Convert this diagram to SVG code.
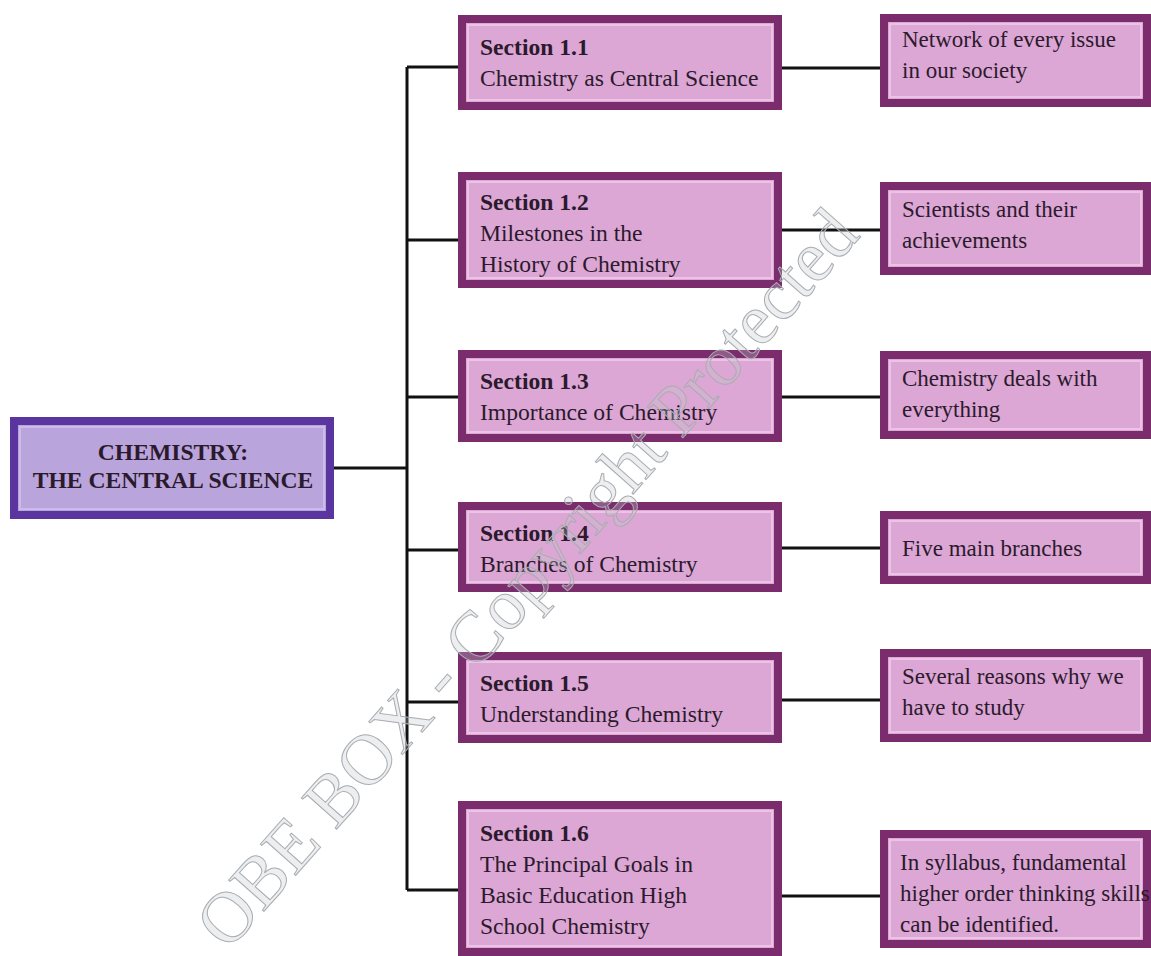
<svg xmlns="http://www.w3.org/2000/svg" width="1151" height="956" viewBox="0 0 1151 956">
<style>
.sec{fill:#dca6d5;stroke:#7a2c6c;stroke-width:8}
.inner{fill:none;stroke:#ebc3e5;stroke-width:2}
.main{fill:#b9a4dc;stroke:#5a35a0;stroke-width:8}
.maininner{fill:none;stroke:#cbbbe8;stroke-width:2}
.t{font-family:"Liberation Serif","Times New Roman",serif;font-size:23px;fill:#2b1a2c}
.s{font-size:23.6px}
.b{font-weight:bold}
.c{text-anchor:middle}
.ln{stroke:#111;stroke-width:3;fill:none}
.wm{font-family:"Liberation Serif","Times New Roman",serif;font-size:72px;fill:#c3c7ca;fill-opacity:0.3;stroke:#a9adb1;stroke-width:1}
</style>
<rect width="1151" height="956" fill="#ffffff"/>
<g id="connectors">
<path class="ln" d="M334 468 H407"/>
<path class="ln" d="M407 67 V890"/>
<path class="ln" d="M407 67 H458 M407 240 H458 M407 397 H458 M407 550 H458 M407 702 H458 M407 890 H458"/>
<path class="ln" d="M782 68 H880 M782 230 H880 M782 397 H880 M782 548 H880 M782 700 H880 M782 896 H880"/>
</g>
<g id="central">
<rect class="main" x="14" y="421" width="316" height="94"/>
<rect class="maininner" x="20" y="427" width="304" height="82"/>
<text class="t s b c" x="173" y="460">CHEMISTRY:</text>
<text class="t s b c" x="173" y="488">THE CENTRAL SCIENCE</text>
</g>
<g id="s1">
<rect class="sec" x="462" y="19" width="316" height="87"/>
<rect class="inner" x="468" y="25" width="304" height="75"/>
<text class="t s b" x="480" y="55">Section 1.1</text>
<text class="t s" x="480" y="86">Chemistry as Central Science</text>
</g>
<g id="s2">
<rect class="sec" x="462" y="176" width="316" height="108"/>
<rect class="inner" x="468" y="182" width="304" height="96"/>
<text class="t s b" x="480" y="210">Section 1.2</text>
<text class="t s" x="480" y="241">Milestones in the</text>
<text class="t s" x="480" y="272">History of Chemistry</text>
</g>
<g id="s3">
<rect class="sec" x="462" y="354" width="316" height="84"/>
<rect class="inner" x="468" y="360" width="304" height="72"/>
<text class="t s b" x="480" y="389">Section 1.3</text>
<text class="t s" x="480" y="420">Importance of Chemistry</text>
</g>
<g id="s4">
<rect class="sec" x="462" y="506" width="316" height="82"/>
<rect class="inner" x="468" y="512" width="304" height="70"/>
<text class="t s b" x="480" y="541">Section 1.4</text>
<text class="t s" x="480" y="572">Branches of Chemistry</text>
</g>
<g id="s5">
<rect class="sec" x="462" y="656" width="316" height="83"/>
<rect class="inner" x="468" y="662" width="304" height="71"/>
<text class="t s b" x="480" y="691">Section 1.5</text>
<text class="t s" x="480" y="722">Understanding Chemistry</text>
</g>
<g id="s6">
<rect class="sec" x="462" y="805" width="316" height="147"/>
<rect class="inner" x="468" y="811" width="304" height="135"/>
<text class="t s b" x="480" y="841">Section 1.6</text>
<text class="t s" x="480" y="872">The Principal Goals in</text>
<text class="t s" x="480" y="903">Basic Education High</text>
<text class="t s" x="480" y="934">School Chemistry</text>
</g>
<g id="r1">
<rect class="sec" x="884" y="18" width="263" height="85"/>
<rect class="inner" x="890" y="24" width="251" height="73"/>
<text class="t" x="902" y="47">Network of every issue</text>
<text class="t" x="902" y="78">in our society</text>
</g>
<g id="r2">
<rect class="sec" x="884" y="186" width="263" height="85"/>
<rect class="inner" x="890" y="192" width="251" height="73"/>
<text class="t" x="902" y="217">Scientists and their</text>
<text class="t" x="902" y="248">achievements</text>
</g>
<g id="r3">
<rect class="sec" x="884" y="355" width="263" height="80"/>
<rect class="inner" x="890" y="361" width="251" height="68"/>
<text class="t" x="902" y="386">Chemistry deals with</text>
<text class="t" x="902" y="417">everything</text>
</g>
<g id="r4">
<rect class="sec" x="884" y="515" width="263" height="65"/>
<rect class="inner" x="890" y="521" width="251" height="53"/>
<text class="t" x="902" y="556">Five main branches</text>
</g>
<g id="r5">
<rect class="sec" x="884" y="653" width="263" height="85"/>
<rect class="inner" x="890" y="659" width="251" height="73"/>
<text class="t" x="902" y="684">Several reasons why we</text>
<text class="t" x="902" y="715">have to study</text>
</g>
<g id="r6">
<rect class="sec" x="884" y="834" width="263" height="110"/>
<rect class="inner" x="890" y="840" width="251" height="98"/>
<text class="t" x="900" y="870">In syllabus, fundamental</text>
<text class="t" x="900" y="901">higher order thinking skills</text>
<text class="t" x="900" y="932">can be identified.</text>
</g>
<text class="wm" transform="translate(228 952) rotate(-48.5)">OBE BOX - Copyright Protected</text>
</svg>
